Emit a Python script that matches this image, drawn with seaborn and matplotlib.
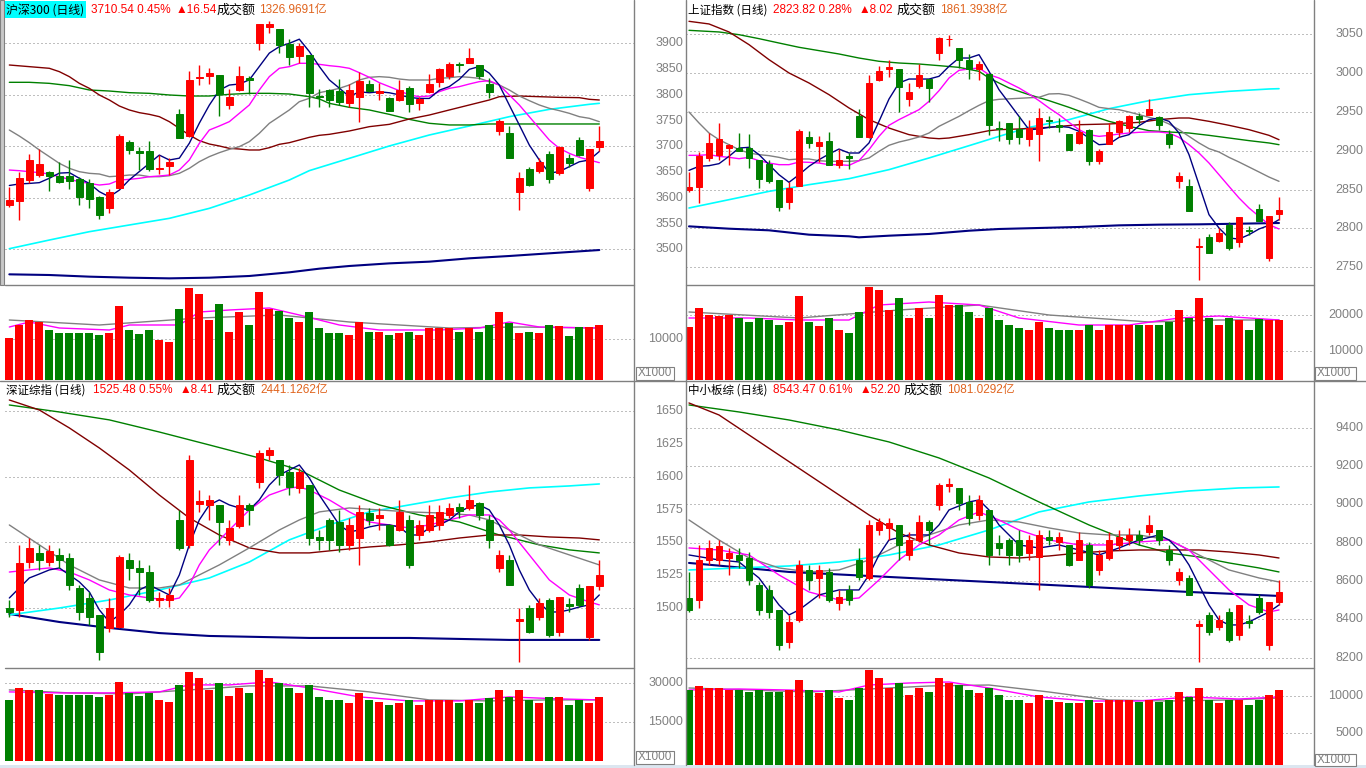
import matplotlib
matplotlib.use('Agg')
import matplotlib.pyplot as plt
import matplotlib.transforms as mtrans
from matplotlib.patches import Rectangle
from matplotlib.lines import Line2D
import numpy as np
import pandas as pd
import seaborn as sns

sns.set_style('white')
plt.rcParams['font.family'] = ['Noto Sans CJK SC', 'DejaVu Sans']

RED = '#FF0000'; GREEN = '#008000'; NAVY = '#000080'; MAG = '#FF00FF'
GRAY = '#808080'; MAROON = '#800000'; CYAN = '#00FFFF'; ORANGE = '#E0641E'

# ================= 沪深300 =================
hs_o = [3586,3594,3635,3644,3651,3642,3642,3636,3628,3602,3581,3620,3708,3691,3691,3656,3661,3763,3720,3832,
        3837,3838,3780,3809,3833,3901,3932,3928,3898,3876,3877,3798,3809,3808,3785,3795,3821,3804,3794,3789,
        3814,3785,3806,3824,3837,3860,3862,3858,3821,3730,3725,3612,3656,3653,3686,3649,3677,3712,3620,3699]
hs_h = [3622,3651,3685,3695,3653,3669,3674,3641,3636,3603,3618,3723,3712,3699,3711,3683,3678,3773,3846,3858,
        3853,3839,3811,3856,3837,3938,3943,3928,3908,3901,3877,3811,3811,3831,3821,3845,3828,3822,3795,3829,
        3817,3795,3841,3852,3864,3864,3891,3858,3832,3754,3740,3651,3660,3678,3691,3700,3686,3719,3695,3740]
hs_l = [3583,3557,3628,3640,3614,3628,3617,3586,3580,3559,3571,3619,3685,3654,3653,3646,3644,3716,3719,3819,
        3821,3758,3772,3808,3802,3887,3921,3881,3858,3862,3777,3777,3776,3780,3776,3748,3806,3790,3768,3788,
        3767,3770,3804,3816,3830,3845,3862,3831,3793,3722,3678,3576,3623,3649,3628,3644,3660,3681,3614,3690]
hs_c = [3596,3638,3673,3666,3642,3631,3633,3601,3598,3567,3611,3721,3693,3688,3656,3658,3670,3717,3829,3835,
        3843,3802,3795,3837,3828,3937,3938,3896,3874,3895,3804,3795,3789,3787,3809,3826,3808,3807,3769,3809,
        3783,3791,3821,3851,3860,3857,3871,3837,3806,3749,3678,3638,3624,3669,3636,3699,3668,3683,3695,3710.54]
hs_v = [10244,13415,14634,14146,12195,11463,11463,11463,11463,10976,11463,18293,12195,11220,12195,9756,9268,17561,22683,21220,
        14634,18780,11707,16585,13415,21707,17561,17073,15122,14146,16585,12683,11463,11463,10976,14146,11707,11707,10976,11463,
        11707,10976,12683,12683,12683,11707,12683,11707,13415,16829,13902,11463,11707,11463,13415,13171,10732,12927,12927,13415]
hs_ma5_k = list(range(60))
hs_ma5 = [3624,3627,3628,3629.5,3638,3648,3649,3638,3628,3612,3602,3615,3635,3651,3667,3683,3673.5,3677,3706,3745,
          3780,3809,3819,3821,3829,3855,3881,3893.5,3900,3908,3884,3855,3829,3813,3796.5,3806,3804,3806,3804,3800,
          3795,3793,3793,3809,3816,3830,3849.5,3855,3842,3819,3780,3741.5,3702.5,3673.5,3648,3651,3660.5,3670,3673.5,3690]
hs_ma10_k = list(range(60))
hs_ma10 = [3654,3652.7,3650.8,3648.9,3646.3,3641,3635.9,3631.4,3628,3624.9,3626.9,3634.6,3635.9,3637.9,3641,3642.4,3644.3,3654,3673.5,3705.8,
           3731.7,3739.5,3747.9,3764.1,3780.3,3809.4,3835.3,3851.5,3854.7,3861.2,3861.2,3859.2,3856.6,3854.7,3851.5,3843,3834,3823.6,3815.9,3808.1,
           3799.7,3796.4,3797.7,3806.2,3812.6,3815.9,3821,3825.6,3827.5,3819.1,3799.7,3780.3,3757.6,3735,3712.3,3696.1,3686.4,3678.7,3673.5,3668.3]
hs_ma20_k = list(range(60))
hs_ma20 = [3731.7,3720,3707.1,3692.9,3680,3667,3657.3,3650.8,3647.6,3646.3,3641.1,3642.4,3644.3,3644.3,3641.1,3641.1,3643,3647.6,3657.3,3670.2,
           3680,3687.7,3694.2,3699.4,3709.1,3725.3,3744.7,3757.6,3770.6,3786.7,3793.2,3804.2,3808.1,3812.6,3819.1,3828.8,3834,3835.3,3834,3830.7,
           3828.8,3828.8,3828.8,3832,3833.3,3835.3,3834,3832,3825.6,3819.1,3809.4,3797.7,3788.7,3780.3,3773.8,3769.3,3764.1,3757.6,3754.4,3747.9]
hs_ma30_k = [0,2,4,5,6,7,8,9,10,11,12,13,14,15,16,17,18,19,20,21,22,23,24,25,26,27,28,29,30,31,32,34,36,38,40,42,44,46,48,49,51,53,55,57,58,59]
hs_ma30 = [3857.9,3854.7,3851.5,3845,3835.3,3822.3,3812.6,3799.7,3790,3778.3,3770.6,3765.4,3762.1,3757.6,3747.9,3735,3722,3711,3704.5,3700.7,
           3696.1,3694.8,3692.9,3692.9,3697.4,3703.9,3707.1,3712.3,3717.5,3721.4,3723.3,3729.8,3738.2,3742.7,3753.1,3760.8,3770.6,3780.3,3790,3796.4,
           3797.7,3796.4,3795.1,3794.5,3791.3,3790]
hs_ma60_k = [0,2,4,6,8,10,12,14,16,18,20,22,24,26,28,30,31,32,34,36,38,40,42,44,46,48,50,53,56,59]
hs_ma60 = [3824.3,3824.3,3822.3,3817.8,3809.4,3807.4,3804.2,3802.9,3799.7,3797.7,3797.7,3801,3802.9,3802.9,3801.6,3796.4,3792,3783.5,3775.7,3770.6,
           3762.1,3752.4,3744.7,3741.5,3741.5,3743.4,3743.4,3743.4,3743.4,3743.4]
hs_ma120_k = [0,4,8,12,16,20,24,28,30,34,38,42,46,50,54,58,59]
hs_ma120 = [3501.3,3518.1,3534.3,3547.3,3560.2,3579.6,3605.5,3634.6,3652.8,3676.7,3700.7,3722,3739.5,3757.6,3771.8,3781.6,3783.5]
hs_ma250_k = [0,4,8,12,16,20,24,28,31,34,38,42,46,50,54,58,59]
hs_ma250 = [3451.5,3450.2,3447,3445,3443.7,3445,3448.3,3455.4,3462.5,3467.7,3472.8,3476.1,3482.6,3487.1,3492.3,3497.4,3498.7]
hs_vma5_k = [0,2,5,10,12,17,19,22,26,29,33,37,43,47,50,53,59]
hs_vma5 = [13022,14251,12776,12285,13514,13514,16708,17199,17690,15971,13514,12285,12285,12776,14251,13022,12776]
hs_vma10_k = [0,9,19,27,34,44,51,59]
hs_vma10 = [14742,13514,15233,15971,14251,12776,13022,12776]

# ================= 上证指数 =================
sh_o = [2849,2853,2891,2895,2904,2904,2903,2888,2883,2862,2834,2855,2917,2906,2913,2882,2893,2944,2918,2991,
        3005,3005,2966,2983,2992,3025,3043,3032,3016,3005,2998,2929,2936,2928,2915,2922,2939,2933,2921,2910,
        2926,2887,2909,2924,2929,2944,2946,2943,2921,2861,2854,2776,2789,2784,2805,2783,2798,2825,2762,2818]
sh_h = [2873,2898,2923,2936,2908,2923,2921,2888,2888,2862,2860,2928,2925,2919,2924,2902,2897,2954,2997,3009,
        3016,3005,2987,3012,2992,3046,3049,3032,3024,3015,3000,2938,2936,2945,2939,2955,2944,2942,2922,2939,
        2928,2902,2936,2940,2946,2948,2966,2944,2927,2873,2863,2788,2793,2800,2808,2815,2803,2831,2816,2840]
sh_l = [2847,2833,2887,2888,2882,2899,2878,2852,2858,2823,2825,2855,2903,2886,2882,2878,2876,2917,2916,2990,
        2995,2950,2958,2981,2963,3016,3035,3006,2992,2991,2920,2913,2909,2909,2906,2887,2929,2924,2901,2909,
        2881,2883,2908,2918,2924,2934,2946,2927,2903,2852,2822,2734,2769,2783,2772,2776,2791,2809,2758,2811]
sh_c = [2853,2893,2910,2915,2907,2900,2891,2863,2861,2828,2852,2925,2910,2911,2882,2888,2891,2918,2987,3002,
        3008,2982,2976,2997,2980,3045,3044,3016,3005,3011,2933,2928,2915,2918,2929,2942,2938,2931,2901,2924,
        2887,2899,2924,2938,2944,2941,2953,2933,2909,2867,2822,2777,2769,2794,2775,2815,2797,2810,2816,2823.82]
sh_v = [16667,21944,20000,19722,20000,19167,18056,19167,18611,17222,18056,25278,18056,16944,19167,15833,15000,20833,27778,26944,
        21389,24722,19167,21944,19167,25556,22778,22778,20833,19167,21944,18611,17222,16389,15833,18056,16389,15833,15833,15833,
        17222,15833,17222,17222,17222,17222,17222,17222,18056,21389,19167,24722,19167,17222,19167,18611,15833,18778,18611,18611]
sh_ma5_k = list(range(60))
sh_ma5 = [2874.7,2879.9,2880.7,2883.3,2892.7,2903.4,2904.3,2894.9,2882,2869.1,2859.3,2869.1,2879.9,2888.4,2895.7,2902.1,2897,2897,2909.9,2937.7,
          2966.4,2987,2992.1,2992.1,2992.1,2995.6,3008.4,3019.1,3019.1,3023.4,3002,2978.4,2961.3,2944.1,2927,2927.9,2930,2931.3,2930,2924.9,
          2916.3,2907.7,2908.6,2917.1,2920.6,2932.1,2939.9,2942,2937.7,2922.7,2894.9,2856.3,2817.7,2800.6,2787.7,2786.4,2792,2799.3,2804,2811.3]
sh_ma10_k = list(range(60))
sh_ma10 = [2894,2894,2894.9,2892.7,2891.4,2889.7,2891.4,2887.1,2884.1,2882,2882,2885.4,2885,2884.1,2882,2882,2881.1,2887.1,2901.3,2918.4,
           2932.6,2939.9,2946.3,2952.7,2963.4,2977.1,2993.4,3003.3,3005,3006.3,2997.7,2993.4,2987,2980.6,2972.9,2964.3,2954.9,2946.3,2936.4,2927,
           2920.6,2918.4,2919.7,2921.4,2922.7,2923.6,2924,2924,2922.7,2917.1,2907.7,2897,2884.1,2869.1,2854.1,2839.2,2826.3,2815.6,2804.9,2799.3]
sh_ma20_k = list(range(60))
sh_ma20 = [2949.7,2935.6,2922.7,2914.1,2907.7,2901.3,2897,2894.9,2893.6,2891.4,2888.4,2889.3,2889.3,2887.1,2886.3,2886.3,2886.3,2887.1,2890.6,2899.1,
           2906.9,2911.1,2914.1,2917.6,2922.7,2931.3,2937.7,2944.1,2951.4,2958.3,2964.3,2966,2966.6,2967.3,2968,2968.6,2972.9,2973.3,2971.1,2966.4,
           2961.3,2955.7,2954,2952.7,2949.7,2946.3,2942.9,2939.9,2934.3,2927,2918.4,2909.9,2902.6,2898.3,2891.4,2885.4,2879,2872.6,2866.1,2860.6]
sh_ma30_k = [0,2,4,6,8,10,12,14,16,18,20,22,24,25,26,28,30,31,33,36,39,42,45,47,49,50,52,54,56,58,59]
sh_ma30 = [3066.3,3062.9,3052.6,3036.3,3017,2999.9,2987,2972,2954.9,2939.9,2929.1,2920.6,2916.3,2915.4,2916.3,2920.6,2925.7,2927,2927.9,2930,
           2933.4,2934.3,2936.4,2939.9,2942,2942,2937.7,2932.6,2927,2919.7,2914.1]
sh_ma60_k = [0,3,5,7,9,11,13,15,17,19,21,23,25,27,29,30,31,32,34,36,38,40,42,44,46,48,50,52,54,56,58,59]
sh_ma60 = [3054.7,3052.6,3049.1,3044,3038.4,3032.9,3028.6,3024.3,3019.1,3014.9,3012.7,3011.4,3009.3,3007.1,3002,2993.4,2987,2980.6,2972,2964.3,
           2955.7,2946.3,2937.7,2931.3,2925.7,2924,2922.7,2919.7,2916.3,2912.9,2909.9,2907.7]
sh_ma120_k = [0,4,8,12,16,20,24,28,31,34,38,42,46,50,54,58,59]
sh_ma120 = [2826.3,2837,2847.7,2856.3,2864,2875.6,2890.6,2906.4,2918.4,2930,2939.9,2954,2964.3,2972,2976.3,2979.3,2979.7]
sh_ma250_k = [0,4,8,12,16,17,20,24,28,31,35,39,43,47,51,55,59]
sh_ma250 = [2802.7,2799.7,2797.6,2792,2789.9,2788.6,2790.7,2792.9,2797.1,2799.3,2800.6,2801.9,2804,2804.9,2805.3,2806.1,2807]
sh_vma5_k = [0,6,11,16,19,24,29,33,39,44,49,53,59]
sh_vma5 = [19167,19167,18611,18611,22778,23611,22778,19167,17222,17222,19167,19722,18611]
sh_vma10_k = [0,11,21,29,36,46,53,59]
sh_vma10 = [20833,19167,21389,22778,20000,18056,18611,18611]

# ================= 深证综指 =================
sz_o = [1500.3,1498.9,1535.2,1542.1,1535.2,1540.6,1538.3,1515.5,1507.9,1495.1,1485.2,1485.9,1536.8,1530.7,1527.6,1506.4,1506.4,1567.1,1548.2,1579.2,
        1578.5,1578.5,1552.0,1562.5,1578.5,1595.9,1616.4,1612.6,1603.5,1591.4,1593.6,1554.2,1567.1,1565.6,1548.2,1553.4,1572.4,1568.6,1563.3,1559.5,
        1567.1,1555.7,1559.5,1563.3,1570.9,1577.0,1576.2,1580.0,1567.1,1530.7,1536.8,1490.5,1500.3,1493.5,1506.4,1482.1,1503.4,1515.5,1478.3,1517.1]
sz_h = [1506.4,1548.2,1553.4,1548.2,1548.2,1545.9,1542.1,1517.8,1512.5,1495.1,1507.9,1540.6,1542.1,1536.8,1533.0,1512.5,1515.5,1574.7,1616.4,1589.8,
        1586.0,1578.5,1567.1,1586.0,1580.0,1620.2,1622.5,1612.6,1608.8,1606.5,1593.6,1559.5,1568.6,1574.7,1568.6,1578.5,1576.2,1576.2,1564.0,1582.3,
        1570.9,1567.1,1578.5,1578.5,1580.0,1580.0,1593.6,1580.8,1570.9,1544.4,1540.6,1500.3,1502.7,1507.9,1507.9,1508.7,1507.9,1518.5,1517.1,1536.8]
sz_l = [1493.5,1493.5,1530.7,1529.2,1532.2,1530.7,1514.0,1491.3,1487.5,1460.9,1482.1,1485.2,1521.6,1510.2,1504.9,1501.1,1501.1,1544.4,1545.9,1573.2,
        1567.1,1548.2,1548.2,1561.0,1563.3,1591.3,1612.6,1593.6,1586.0,1587.6,1548.2,1544.4,1544.4,1542.8,1544.4,1533.0,1563.3,1559.5,1547.4,1558.7,
        1530.7,1552.0,1558.0,1559.5,1568.6,1568.6,1574.7,1567.1,1545.9,1527.6,1517.8,1459.4,1481.3,1491.3,1478.3,1479.1,1497.3,1501.1,1476.1,1514.0]
sz_c = [1497.3,1534.5,1545.9,1536.8,1543.6,1536.8,1517.8,1497.3,1493.5,1466.9,1500.3,1539.0,1530.7,1527.6,1506.4,1507.9,1510.2,1545.9,1612.6,1581.5,
        1582.3,1565.6,1561.0,1578.5,1574.7,1617.9,1620.2,1601.2,1592.1,1603.5,1553.4,1551.9,1552.0,1548.2,1563.3,1573.2,1567.1,1570.9,1548.2,1573.2,
        1533.0,1563.3,1570.9,1573.2,1576.2,1574.0,1582.3,1570.9,1552.0,1540.6,1517.8,1492.0,1482.1,1504.1,1479.9,1508.7,1501.9,1502.7,1517.1,1525.48]
sz_v = [23615,28230,27460,27460,25922,25538,25538,25538,25538,24768,25538,30537,26307,25153,26307,23615,22845,29384,34383,32076,
        27460,30153,25153,28230,26307,35153,32076,30153,28230,26307,29384,24768,23615,23615,22460,26307,23615,22845,21691,22460,
        23615,21691,23615,23615,23615,22460,23615,22460,24384,27460,24768,27460,23615,22460,24768,24768,21691,23615,22460,24768]
sz_ma5_k = list(range(60))
sz_ma5 = [1507.9,1515.5,1523.1,1526.1,1529.2,1530.7,1525.4,1520.1,1512.5,1498.9,1489.7,1495.1,1502.7,1514.0,1517.8,1514.0,1510.2,1525.4,1548.2,1567.1,
          1578.5,1582.3,1578.5,1576.2,1574.7,1582.3,1593.6,1601.2,1605.0,1608.8,1598.9,1586.0,1574.7,1563.3,1558.0,1559.5,1561.8,1563.3,1563.3,1561.8,
          1555.7,1555.7,1561.0,1563.3,1567.1,1573.2,1577.0,1578.5,1574.7,1563.3,1548.2,1529.2,1514.0,1504.1,1497.3,1497.3,1498.9,1501.1,1502.7,1510.2]
sz_ma10_k = [0,2,4,6,8,10,12,14,16,17,18,19,20,22,24,26,28,29,30,32,34,36,38,40,42,44,46,48,49,50,52,54,56,58,59]
sz_ma10 = [1527.6,1529.2,1530.7,1527.6,1521.6,1514.0,1510.2,1507.9,1506.4,1507.9,1517.8,1533.0,1544.4,1559.5,1574.7,1586.0,1591.4,1592.1,1589.8,1582.3,
           1573.2,1565.6,1563.3,1561.0,1563.3,1567.1,1570.9,1570.9,1567.1,1559.5,1540.6,1521.6,1510.2,1504.9,1502.7]
sz_ma20_k = [0,3,6,9,12,15,17,19,21,24,27,29,31,34,37,40,43,46,48,50,53,56,59]
sz_ma20 = [1563.3,1548.2,1533.0,1521.6,1515.5,1515.5,1517.8,1525.4,1533.0,1545.9,1559.5,1567.1,1573.2,1576.2,1574.7,1573.2,1572.4,1570.9,1567.1,1559.5,
           1548.2,1540.6,1533.0]
sz_ma30_k = [0,3,6,9,12,15,18,21,24,27,30,33,36,39,42,45,48,51,54,57,59]
sz_ma30 = [1658.1,1650.5,1636.9,1621.7,1605.0,1586.0,1568.6,1555.7,1545.9,1542.1,1542.1,1544.4,1546.6,1548.2,1550.4,1553.4,1555.7,1555.7,1554.2,1553.4,1552.0]
sz_ma60_k = [0,5,10,15,20,25,29,33,37,41,45,49,53,56,59]
sz_ma60 = [1654.3,1649.0,1643.0,1633.8,1624.0,1614.1,1605.0,1589.8,1578.5,1570.9,1565.6,1555.7,1548.2,1544.4,1542.1]
sz_ma120_k = [0,5,10,15,20,24,28,32,36,40,44,48,52,56,59]
sz_ma120 = [1495.1,1500.3,1506.4,1514.0,1523.1,1535.2,1552.0,1563.3,1573.2,1578.5,1583.8,1588.3,1591.4,1592.9,1594.4]
sz_ma250_k = [0,5,10,15,20,30,40,50,59]
sz_ma250 = [1495.8,1489.7,1485.2,1481.3,1479.1,1477.6,1477.6,1476.1,1476.1]
sz_vma5_k = [0,5,10,15,18,22,26,30,35,40,45,50,55,59]
sz_vma5 = [26691,26307,26307,26691,29384,29384,30537,28230,24768,23230,23230,24768,23999,23615]
sz_vma10_k = [0,6,12,18,24,30,36,42,48,54,59]
sz_vma10 = [27460,26307,25922,27460,28999,28999,26691,23615,23230,23615,23615]

# ================= 中小板综 =================
zx_o = [8511.5,8501.1,8709.7,8709.7,8720.1,8735.8,8720.1,8579.3,8553.3,8448.9,8282.0,8396.8,8657.6,8615.9,8647.2,8485.4,8553.3,8709.7,8615.9,8866.3,
        8876.8,8892.4,8735.8,8814.1,8908.1,8996.8,9095.9,9085.5,9012.4,8944.6,8970.7,8798.5,8814.1,8814.1,8746.2,8725.4,8829.8,8803.7,8788.1,8709.7,
        8788.1,8657.6,8720.1,8788.1,8814.1,8840.2,8855.8,8866.3,8761.9,8605.4,8615.9,8365.5,8422.9,8360.2,8438.5,8318.5,8391.6,8511.5,8266.4,8491.3]
zx_h = [8647.2,8788.1,8814.1,8814.1,8772.4,8772.4,8751.5,8595.0,8579.3,8448.9,8422.9,8709.7,8683.7,8683.7,8668.1,8553.3,8579.3,8772.4,8918.5,8928.9,
        8928.9,8892.4,8855.8,8944.6,8918.5,9111.6,9137.6,9085.5,9049.0,9049.0,8970.7,8840.2,8824.6,8866.3,8840.2,8866.3,8866.3,8855.8,8788.1,8855.8,
        8803.7,8761.9,8855.8,8866.3,8876.8,8866.3,8944.6,8866.3,8788.1,8668.1,8631.5,8396.8,8438.5,8422.9,8459.4,8475.0,8422.9,8532.4,8491.3,8605.4]
zx_l = [8438.5,8459.4,8683.7,8683.7,8631.5,8668.1,8579.3,8422.9,8407.2,8240.2,8250.7,8386.4,8553.3,8511.5,8490.6,8448.9,8475.0,8605.4,8605.4,8840.2,
        8814.1,8709.7,8709.7,8803.7,8788.1,8970.7,9064.6,8970.7,8892.4,8918.5,8683.7,8735.8,8683.7,8699.3,8709.7,8553.3,8788.1,8761.9,8678.4,8709.7,
        8563.7,8631.5,8709.7,8761.9,8788.1,8788.1,8840.2,8788.1,8683.7,8579.3,8527.2,8177.6,8318.5,8344.6,8282.0,8292.5,8355.1,8428.1,8240.2,8475.0]
zx_c = [8448.9,8709.7,8772.4,8782.8,8746.2,8709.7,8605.4,8448.9,8438.5,8266.4,8386.4,8683.7,8605.4,8657.6,8501.1,8516.8,8501.1,8621.0,8892.4,8908.1,
        8902.8,8788.1,8814.1,8908.1,8866.3,9101.1,9106.4,9007.2,8929.0,9022.8,8735.8,8772.4,8735.8,8735.8,8814.1,8840.2,8814.1,8829.8,8683.7,8814.1,
        8579.3,8735.8,8814.1,8829.8,8840.2,8814.1,8892.4,8814.1,8709.7,8647.2,8527.2,8375.9,8334.2,8396.8,8292.5,8475.0,8381.2,8438.5,8491.3,8543.47]
zx_v = [10759,11291,11025,11025,10759,10759,10493,10759,10493,10493,10759,12089,10759,10360,10759,9695,9429,11025,13419,12355,
        11025,11690,10094,11025,10493,12355,11690,11424,10759,10360,11025,10094,9429,9429,9030,10094,9429,9163,9030,9030,
        9429,9030,9429,9429,9429,9163,9429,9163,9429,10493,9828,11025,9429,9030,9429,9429,8764,9429,10094,10759]
zx_ma5_k = [0,3,5,7,9,10,11,13,15,17,18,19,20,22,24,25,26,28,29,30,31,33,35,37,39,41,43,45,47,48,49,50,51,52,53,54,55,56,57,58,59]
zx_ma5 = [8735.8,8709.7,8699.3,8615.9,8475.0,8422.9,8448.9,8527.2,8553.3,8553.3,8631.5,8735.8,8814.1,8840.2,8840.2,8892.4,8970.7,9012.4,9022.8,8970.7,
          8892.4,8788.1,8772.4,8788.1,8761.9,8735.8,8772.4,8814.1,8840.2,8814.1,8761.9,8683.7,8579.3,8475.0,8396.8,8370.7,8370.7,8386.4,8412.5,8438.5,8475.0]
zx_ma10_k = [0,3,6,9,12,15,17,19,21,23,25,27,29,31,33,36,39,42,45,48,50,52,54,56,58,59]
zx_ma10 = [8772.4,8761.9,8735.8,8631.5,8542.8,8501.1,8511.5,8605.4,8709.7,8788.1,8840.2,8918.5,8960.3,8918.5,8866.3,8814.1,8788.1,8788.1,8803.7,8814.1,
           8761.9,8657.6,8553.3,8475.0,8438.5,8448.9]
zx_ma20_k = [0,3,6,9,12,15,18,21,24,27,30,33,36,39,42,45,48,51,54,57,59]
zx_ma20 = [8918.5,8814.1,8720.1,8668.1,8647.2,8657.6,8709.7,8788.1,8840.2,8892.4,8918.5,8908.1,8876.8,8850.6,8840.2,8840.2,8814.1,8735.8,8657.6,8615.9,8595.0]
zx_ma30_k = [0,3,6,9,12,15,18,21,24,27,30,33,36,39,42,45,48,51,54,57,59]
zx_ma30 = [9528.9,9466.3,9362.0,9257.6,9153.3,9049.0,8944.6,8850.6,8788.1,8746.2,8725.4,8720.1,8730.6,8746.2,8756.7,8761.9,8761.9,8761.9,8751.5,8735.8,8720.1]
zx_ma60_k = [0,5,10,15,20,25,30,35,40,45,48,51,54,57,59]
zx_ma60 = [9518.5,9482.0,9440.2,9388.1,9325.5,9242.0,9137.6,9012.4,8892.4,8788.1,8746.2,8725.4,8694.2,8668.1,8647.2]
zx_ma120_k = [0,5,10,15,20,25,30,35,40,45,50,55,59]
zx_ma120 = [8657.6,8668.1,8678.4,8699.3,8735.8,8788.1,8866.3,8960.3,9012.4,9043.7,9069.8,9085.5,9090.7]
zx_ma250_k = [0,10,20,30,40,50,59]
zx_ma250 = [8694.2,8647.2,8621.0,8595.0,8569.0,8542.8,8522.0]
zx_vma5_k = [0,5,10,15,18,22,26,30,35,40,45,50,55,59]
zx_vma5 = [10759,10892,10759,10493,11424,11690,11823,11025,9828,9296,9296,9828,9562,9828]
zx_vma10_k = [0,6,12,18,24,30,36,42,48,54,59]
zx_vma10 = [11025,10759,10493,10892,11291,11424,10493,9429,9296,9429,9695]

W, H = 1366, 768
fig = plt.figure(figsize=(W / 100, H / 100), dpi=100)
fig.patch.set_facecolor('white')


def add_ax(x0, y0, x1, y1):
    ax = fig.add_axes([x0 / W, 1 - y1 / H, (x1 - x0) / W, (y1 - y0) / H])
    ax.set_facecolor('none')
    for s in ax.spines.values():
        s.set_visible(False)
    ax.set_xticks([]); ax.set_yticks([])
    return ax


def dotted(ax, levels):
    for lv in levels:
        ax.axhline(lv, color=GRAY, lw=0.72, linestyle=(0, (1, 3)), zorder=0)


def right_labels(ax, levels, xr):
    tr = mtrans.blended_transform_factory(fig.transFigure, ax.transData)
    for lv in levels:
        ax.text(xr / W, lv, '{:d}'.format(lv), transform=tr, ha='right', va='center',
                color=GRAY, fontsize=9, family=['Liberation Sans', 'DejaVu Sans'])


def candles(ax, o, h, l, c):
    x = np.arange(len(o))
    o = np.array(o, float); h = np.array(h, float); l = np.array(l, float); c = np.array(c, float)
    up = c >= o
    cols = np.where(up, RED, GREEN)
    ax.vlines(x, l, h, colors=cols, lw=1.0, zorder=3)
    lo = np.minimum(o, c); hi = np.maximum(o, c)
    ax.bar(x, hi - lo, bottom=lo, width=0.68, color=cols, edgecolor=cols, lw=0.7, zorder=4)
    return cols


def ma_line(ax, xs, ys, color, lw=1.0):
    df = pd.DataFrame({'x': xs, 'y': ys})
    sns.lineplot(data=df, x='x', y='y', ax=ax, color=color, lw=lw, estimator=None, sort=False, zorder=2)
    ax.set_xlabel(''); ax.set_ylabel('')


def panel(box, xlim, pylim, grid, labels, xr, vylim, vgrid, vlabels, d):
    x0, y0, x1, ysep, y1 = box
    axp = add_ax(x0, y0, x1, ysep)
    axv = add_ax(x0, ysep, x1, y1)
    dotted(axp, grid)
    dotted(axv, vgrid)
    k = np.arange(len(d['o']))
    ma_line(axp, d['k250'], d['ma250'], NAVY, 1.5)
    ma_line(axp, d['k120'], d['ma120'], CYAN, 1.2)
    ma_line(axp, d['k60'], d['ma60'], GREEN, 1.0)
    ma_line(axp, d['k30'], d['ma30'], MAROON, 1.0)
    ma_line(axp, d['k20'], d['ma20'], GRAY, 1.0)
    ma_line(axp, d['k10'], d['ma10'], MAG, 1.0)
    ma_line(axp, d['k5'], d['ma5'], NAVY, 1.0)
    cols = candles(axp, d['o'], d['h'], d['l'], d['c'])
    axv.bar(k, d['v'], width=0.78, color=cols, lw=0, zorder=3)
    ma_line(axv, d['vk10'], d['vma10'], GRAY, 1.0)
    ma_line(axv, d['vk5'], d['vma5'], MAG, 1.0)
    axp.set_xlim(*xlim); axv.set_xlim(*xlim)
    axp.set_ylim(*pylim); axv.set_ylim(*vylim)
    right_labels(axp, labels, xr)
    right_labels(axv, vlabels, xr)
    return axp, axv


def pack(o, h, l, c, v, k5, m5, k10, m10, k20, m20, k30, m30, k60, m60, k120, m120, k250, m250, vk5, vm5, vk10, vm10):
    return dict(o=o, h=h, l=l, c=c, v=v, k5=k5, ma5=m5, k10=k10, ma10=m10, k20=k20, ma20=m20, k30=k30, ma30=m30,
                k60=k60, ma60=m60, k120=k120, ma120=m120, k250=k250, ma250=m250, vk5=vk5, vma5=vm5, vk10=vk10, vma10=vm10)


hs = pack(hs_o, hs_h, hs_l, hs_c, hs_v, hs_ma5_k, hs_ma5, hs_ma10_k, hs_ma10, hs_ma20_k, hs_ma20, hs_ma30_k, hs_ma30,
          hs_ma60_k, hs_ma60, hs_ma120_k, hs_ma120, hs_ma250_k, hs_ma250, hs_vma5_k, hs_vma5, hs_vma10_k, hs_vma10)
sh = pack(sh_o, sh_h, sh_l, sh_c, sh_v, sh_ma5_k, sh_ma5, sh_ma10_k, sh_ma10, sh_ma20_k, sh_ma20, sh_ma30_k, sh_ma30,
          sh_ma60_k, sh_ma60, sh_ma120_k, sh_ma120, sh_ma250_k, sh_ma250, sh_vma5_k, sh_vma5, sh_vma10_k, sh_vma10)
sz = pack(sz_o, sz_h, sz_l, sz_c, sz_v, sz_ma5_k, sz_ma5, sz_ma10_k, sz_ma10, sz_ma20_k, sz_ma20, sz_ma30_k, sz_ma30,
          sz_ma60_k, sz_ma60, sz_ma120_k, sz_ma120, sz_ma250_k, sz_ma250, sz_vma5_k, sz_vma5, sz_vma10_k, sz_vma10)
zx = pack(zx_o, zx_h, zx_l, zx_c, zx_v, zx_ma5_k, zx_ma5, zx_ma10_k, zx_ma10, zx_ma20_k, zx_ma20, zx_ma30_k, zx_ma30,
          zx_ma60_k, zx_ma60, zx_ma120_k, zx_ma120, zx_ma250_k, zx_ma250, zx_vma5_k, zx_vma5, zx_vma10_k, zx_vma10)

panel((5, 0, 634, 285, 380), (-0.433, 62.47), (3430.8, 3984.1), [3500, 3600, 3700, 3800, 3900],
      list(range(3500, 3901, 50)), 683, (0, 23340), [10000], [10000], hs)
panel((686, 0, 1314, 285, 380), (-0.3, 62.5), (2727.3, 3093.7), list(range(2750, 3051, 50)),
      list(range(2750, 3051, 50)), 1363, (1944, 28333), [10000, 20000], [10000, 20000], sh)
panel((5, 381, 634, 668, 765), (-0.433, 62.47), (1454.8, 1672.5), [1500, 1550, 1600, 1650],
      list(range(1500, 1651, 25)), 683, (-1423, 35885), [15000, 30000], [15000, 30000], sz)
panel((686, 381, 1314, 668, 765), (-0.3, 62.5), (8146, 9643.6), list(range(8200, 9401, 200)),
      list(range(8200, 9401, 200)), 1363, (784, 13685), [5000, 10000], [5000, 10000], zx)


# ---- frame lines
def fline(xs, ys, color=GRAY, lw=1.0):
    fig.add_artist(Line2D([x / W for x in xs], [1 - y / H for y in ys], color=color, lw=lw))


for xv in (634, 686, 1314):
    fline([xv, xv], [0, 765])
fline([5, 634], [285, 285]); fline([686, 1314], [285, 285])
fline([0, 1366], [381, 381])
fline([5, 634], [668, 668]); fline([686, 1314], [668, 668])
fig.add_artist(Rectangle((0, 0), 1, 3 / H, transform=fig.transFigure, color='#DCE6F0', lw=0))
fig.add_artist(Rectangle((0, 1 - 285 / H), 4 / W, 285 / H, transform=fig.transFigure,
                         facecolor='#C8C8C8', edgecolor=GRAY, lw=0.8))

# X1000 boxes
for (bx0, by0, bx1, by1) in [(636, 367, 674, 380), (1315, 367, 1356, 380), (636, 751, 674, 764), (1315, 754, 1356, 766)]:
    fig.add_artist(Rectangle((bx0 / W, 1 - by1 / H), (bx1 - bx0) / W, (by1 - by0) / H,
                             transform=fig.transFigure, facecolor='white', edgecolor=GRAY, lw=0.8))
    fig.text((bx0 + 2) / W, 1 - (by0 + by1) / 2 / H, 'X1000', ha='left', va='center', color=GRAY,
             fontsize=8.5, family=['Liberation Sans', 'DejaVu Sans'])

# ---- headers
CJK = ['Noto Sans CJK SC', 'DejaVu Sans']
NUM = ['Liberation Sans', 'Noto Sans CJK SC', 'DejaVu Sans']
headers = [
    (10, [(6, '沪深300 (日线)', 'black', CJK, 8.6), (91, '3710.54 0.45%', RED, NUM, 8.5), (176, '▲16.54', RED, NUM, 8.5),
          (217, '成交额', 'black', CJK, 9.4), (259, '1326.9691亿', ORANGE, NUM, 8.5)]),
    (10, [(688, '上证指数 (日线)', 'black', CJK, 8.3), (773, '2823.82 0.28%', RED, NUM, 8.5), (859, '▲8.02', RED, NUM, 8.5),
          (897, '成交额', 'black', CJK, 9.4), (940, '1861.3938亿', ORANGE, NUM, 8.5)]),
    (390, [(6, '深证综指 (日线)', 'black', CJK, 8.3), (93, '1525.48 0.55%', RED, NUM, 8.5), (180, '▲8.41', RED, NUM, 8.5),
           (217, '成交额', 'black', CJK, 9.4), (260, '2441.1262亿', ORANGE, NUM, 8.5)]),
    (390, [(688, '中小板综 (日线)', 'black', CJK, 8.3), (773, '8543.47 0.61%', RED, NUM, 8.5), (860, '▲52.20', RED, NUM, 8.5),
           (904, '成交额', 'black', CJK, 9.4), (947, '1081.0292亿', ORANGE, NUM, 8.5)]),
]
fig.add_artist(Rectangle((5 / W, 1 - 18 / H), 81 / W, 17 / H, transform=fig.transFigure, color=CYAN, lw=0))
for yc, segs in headers:
    for xs, txt, col, fam, size in segs:
        fig.text(xs / W, 1 - yc / H, txt, ha='left', va='center', color=col, fontsize=size, family=fam)

fig.savefig('out.png', dpi=100)
